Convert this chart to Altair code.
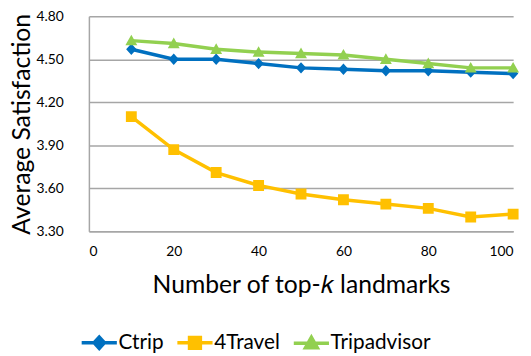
import altair as alt
import pandas as pd

k_values = [10, 20, 30, 40, 50, 60, 70, 80, 90, 100]
ctrip = [4.57, 4.50, 4.50, 4.47, 4.44, 4.43, 4.42, 4.42, 4.41, 4.40]
travel4 = [4.10, 3.87, 3.71, 3.62, 3.56, 3.52, 3.49, 3.46, 3.40, 3.42]
tripadvisor = [4.63, 4.61, 4.57, 4.55, 4.54, 4.53, 4.50, 4.47, 4.44, 4.44]
series_names = ["Ctrip", "4Travel", "Tripadvisor"]
series_colors = ["#0070C0", "#FFC000", "#92D050"]
y_ticks = [3.30, 3.60, 3.90, 4.20, 4.50, 4.80]
x_ticks = [0, 20, 40, 60, 80, 100]

rows = []
for name, vals in zip(series_names, [ctrip, travel4, tripadvisor]):
    for k, v in zip(k_values, vals):
        rows.append({"k": k, "value": v, "series": name})
df = pd.DataFrame(rows)

L = "M-3.4,0H3.4"
shape_paths = [
    L + "M-1,0L0,-1.1L1,0L0,1.1Z",
    L + "M-1.05,-1.05H1.05V1.05H-1.05Z",
    L + "M-1.15,0.9L0,-1.15L1.15,0.9Z",
]

FONT = "Lato"

x = alt.X("k:Q", scale=alt.Scale(domain=[0, 100], nice=False),
          axis=alt.Axis(values=x_ticks, title="Number of top-𝑘 landmarks", grid=False,
                        ticks=False, labelPadding=14, labelFontSize=14,
                        titleFontSize=25, titleFontWeight="normal", titlePadding=14))
y = alt.Y("value:Q", scale=alt.Scale(domain=[3.3, 4.8], nice=False, zero=False),
          axis=alt.Axis(values=y_ticks, format=".2f", title="Average Satisfaction",
                        ticks=False, labelPadding=26, labelFontSize=14,
                        titleFontSize=25, titleFontWeight="normal", titlePadding=2))

color_scale = alt.Scale(domain=series_names, range=series_colors)

legend = alt.Legend(orient="none", legendX=0, legendY=320, direction="horizontal",
                    title=None, labelFontSize=21, labelOffset=9, columnPadding=6,
                    padding=0, symbolStrokeWidth=3.5, symbolSize=110, symbolOpacity=1,
                    labelFont=FONT)

lines = alt.Chart(df).mark_line(strokeWidth=3.5).encode(
    x=x, y=y,
    stroke=alt.Stroke("series:N", scale=color_scale, legend=legend, sort=series_names),
)

points = alt.Chart(df).mark_point(filled=True, size=110, strokeWidth=0, opacity=1).encode(
    x=x, y=y,
    fill=alt.Fill("series:N", scale=color_scale, legend=legend, sort=series_names),
    stroke=alt.Stroke("series:N", scale=color_scale, legend=legend, sort=series_names),
    shape=alt.Shape("series:N", scale=alt.Scale(domain=series_names, range=shape_paths),
                    legend=legend, sort=series_names),
)

chart = alt.layer(lines, points).properties(
    width=430, height=218,
    autosize=alt.AutoSizeParams(type="none"),
    padding={"left": 82, "top": 6, "right": 10, "bottom": 124},
).configure_view(stroke=None).configure_axis(
    gridColor="#A6A6A6", gridWidth=1.5, domainColor="#A6A6A6", domainWidth=1.5,
    labelFont=FONT, titleFont=FONT, labelColor="#000000", titleColor="#000000",
).configure_legend(labelFont=FONT, labelColor="#000000")

chart.save("out.html", embed_options={"renderer": "svg", "actions": False})
